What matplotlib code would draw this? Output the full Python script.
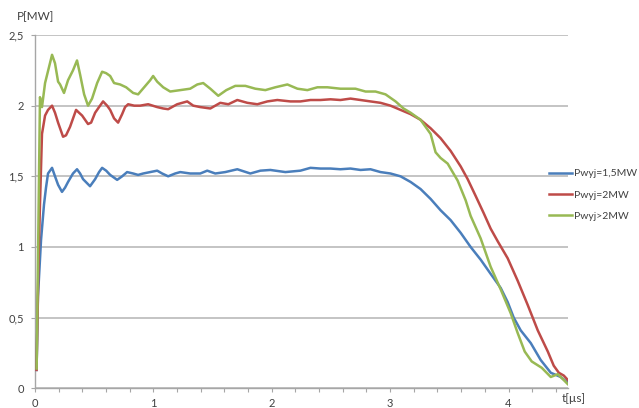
import numpy as np
import matplotlib
matplotlib.use("Agg")
import matplotlib.pyplot as plt
from matplotlib.ticker import FixedLocator, FuncFormatter

# --- data (t in µs, P in MW) ---
t_blue = [0.013, 0.025, 0.051, 0.076, 0.093, 0.110, 0.144, 0.169, 0.195, 0.228,
          0.254, 0.279, 0.321, 0.355, 0.381, 0.406, 0.465, 0.508, 0.541, 0.567,
          0.601, 0.635, 0.694, 0.736, 0.778, 0.829, 0.871, 0.914, 0.973, 1.032,
          1.074, 1.125, 1.184, 1.227, 1.311, 1.396, 1.455, 1.523, 1.607, 1.709,
          1.819, 1.904, 1.988, 2.115, 2.242, 2.327, 2.411, 2.496, 2.580, 2.665,
          2.750, 2.834, 2.919, 3.003, 3.088, 3.173, 3.257, 3.342, 3.426, 3.511,
          3.596, 3.680, 3.765, 3.849, 3.934, 3.993, 4.044, 4.103, 4.188, 4.272,
          4.357, 4.441, 4.500]
p_blue = [0.13, 0.65, 1.05, 1.30, 1.42, 1.52, 1.56, 1.50, 1.44, 1.39,
          1.42, 1.46, 1.52, 1.55, 1.52, 1.48, 1.43, 1.48, 1.53, 1.56,
          1.54, 1.51, 1.475, 1.50, 1.53, 1.52, 1.51, 1.52, 1.53, 1.54,
          1.52, 1.50, 1.52, 1.53, 1.52, 1.52, 1.54, 1.52, 1.53, 1.55,
          1.52, 1.54, 1.545, 1.53, 1.54, 1.56, 1.555, 1.555, 1.55, 1.555,
          1.545, 1.55, 1.53, 1.52, 1.50, 1.46, 1.41, 1.34, 1.26, 1.19,
          1.10, 1.00, 0.91, 0.81, 0.71, 0.61, 0.50, 0.41, 0.32, 0.20,
          0.11, 0.08, 0.04]

t_red = [0.013, 0.030, 0.042, 0.059, 0.085, 0.110, 0.144, 0.169, 0.195, 0.237,
         0.262, 0.296, 0.347, 0.372, 0.398, 0.448, 0.474, 0.508, 0.541, 0.575,
         0.609, 0.635, 0.668, 0.702, 0.736, 0.761, 0.787, 0.838, 0.888, 0.956,
         1.032, 1.083, 1.125, 1.201, 1.286, 1.337, 1.396, 1.481, 1.565, 1.633,
         1.709, 1.794, 1.878, 1.963, 2.047, 2.157, 2.242, 2.327, 2.411, 2.496,
         2.580, 2.665, 2.750, 2.834, 2.919, 3.003, 3.088, 3.173, 3.257, 3.342,
         3.426, 3.511, 3.596, 3.655, 3.723, 3.790, 3.849, 3.909, 3.993, 4.078,
         4.162, 4.247, 4.332, 4.382, 4.425, 4.467, 4.500]
p_red = [0.13, 0.90, 1.30, 1.80, 1.93, 1.97, 2.00, 1.95, 1.88, 1.78,
         1.79, 1.85, 1.97, 1.95, 1.93, 1.87, 1.88, 1.95, 1.99, 2.03,
         2.00, 1.97, 1.91, 1.88, 1.94, 1.99, 2.01, 2.00, 2.00, 2.01,
         1.99, 1.98, 1.975, 2.01, 2.03, 2.00, 1.99, 1.98, 2.02, 2.01,
         2.04, 2.02, 2.01, 2.03, 2.04, 2.03, 2.03, 2.04, 2.04, 2.045,
         2.04, 2.05, 2.04, 2.03, 2.02, 2.00, 1.97, 1.94, 1.90, 1.84,
         1.77, 1.68, 1.57, 1.48, 1.36, 1.24, 1.13, 1.04, 0.92, 0.76,
         0.59, 0.41, 0.26, 0.16, 0.11, 0.09, 0.06]

t_green = [0.014, 0.042, 0.059, 0.085, 0.144, 0.169, 0.195, 0.212, 0.245, 0.279,
           0.321, 0.355, 0.381, 0.415, 0.448, 0.482, 0.525, 0.567, 0.601, 0.635,
           0.668, 0.719, 0.770, 0.829, 0.871, 0.922, 0.973, 0.998, 1.032, 1.083,
           1.142, 1.227, 1.311, 1.371, 1.421, 1.481, 1.548, 1.616, 1.692, 1.777,
           1.861, 1.946, 2.030, 2.132, 2.217, 2.301, 2.386, 2.470, 2.580, 2.707,
           2.792, 2.876, 2.961, 3.046, 3.113, 3.173, 3.257, 3.342, 3.384, 3.426,
           3.486, 3.570, 3.638, 3.680, 3.765, 3.849, 3.934, 4.019, 4.078, 4.137,
           4.196, 4.281, 4.357, 4.416, 4.459, 4.500]
p_green = [0.14, 2.06, 1.99, 2.16, 2.36, 2.30, 2.17, 2.15, 2.09, 2.18,
           2.25, 2.32, 2.22, 2.08, 2.00, 2.05, 2.16, 2.24, 2.23, 2.21,
           2.16, 2.15, 2.13, 2.09, 2.08, 2.13, 2.18, 2.21, 2.17, 2.13,
           2.10, 2.11, 2.12, 2.15, 2.16, 2.12, 2.07, 2.11, 2.14, 2.14,
           2.12, 2.11, 2.13, 2.15, 2.12, 2.11, 2.13, 2.13, 2.12, 2.12,
           2.10, 2.10, 2.08, 2.03, 1.98, 1.95, 1.90, 1.80, 1.67, 1.63,
           1.59, 1.47, 1.33, 1.22, 1.06, 0.86, 0.70, 0.53, 0.39, 0.26,
           0.19, 0.145, 0.08, 0.10, 0.065, 0.03]

labels = ["Pwyj=1,5MW", "Pwyj=2MW", "Pwyj>2MW"]
colors = ["#4a7ebb", "#be4b48", "#98b954"]

plt.rcParams["font.family"] = ["Lato", "DejaVu Sans"]

fig = plt.figure(figsize=(6.39, 4.08), dpi=100)
ax = fig.add_axes([35 / 639, 1 - 388.3 / 408, (567.7 - 35) / 639, (388.3 - 35) / 408])

for t, p, c, lab in zip([t_blue, t_red, t_green], [p_blue, p_red, p_green], colors, labels):
    ax.plot(t, p, color=c, lw=1.8, label=lab, zorder=3)

ax.set_xlim(0, 4.5)
ax.set_ylim(0, 2.5)

ax.xaxis.set_major_locator(FixedLocator(np.round(np.arange(0, 4.41, 0.2), 1)))
ax.xaxis.set_major_formatter(FuncFormatter(
    lambda v, pos: str(int(round(v))) if abs(v - round(v)) < 1e-6 else ""))
ax.yaxis.set_major_locator(FixedLocator([0, 0.5, 1, 1.5, 2, 2.5]))
ax.yaxis.set_major_formatter(FuncFormatter(lambda v, pos: f"{v:g}".replace(".", ",")))

ax.grid(axis="y", color="#bfbfbf", lw=1.3)
ax.set_axisbelow(True)
for s in ["top", "right"]:
    ax.spines[s].set_visible(False)
for s in ["left", "bottom"]:
    ax.spines[s].set_color("#a6a6a6")
    ax.spines[s].set_linewidth(1.0)
ax.tick_params(axis="both", colors="#a6a6a6", labelcolor="#404040",
               labelsize=8, length=3, width=0.8, direction="out")
ax.tick_params(axis="x", pad=4)
ax.tick_params(axis="y", pad=5)

fig.text(17 / 639, 1 - 17 / 408, "P[MW]", fontsize=8.5, color="#404040", va="center", ha="left")
fig.text(562 / 639, 1 - 399 / 408, "t[µs]", fontsize=8.5, color="#404040", va="center", ha="left")

fig.legend(loc="upper left", bbox_to_anchor=(549 / 639, 1 - 169 / 408), frameon=False,
           fontsize=7.5, handlelength=2.2, handletextpad=0.2, labelspacing=1.15,
           borderaxespad=0, borderpad=0, labelcolor="#404040")

fig.savefig("out.png", dpi=100)
